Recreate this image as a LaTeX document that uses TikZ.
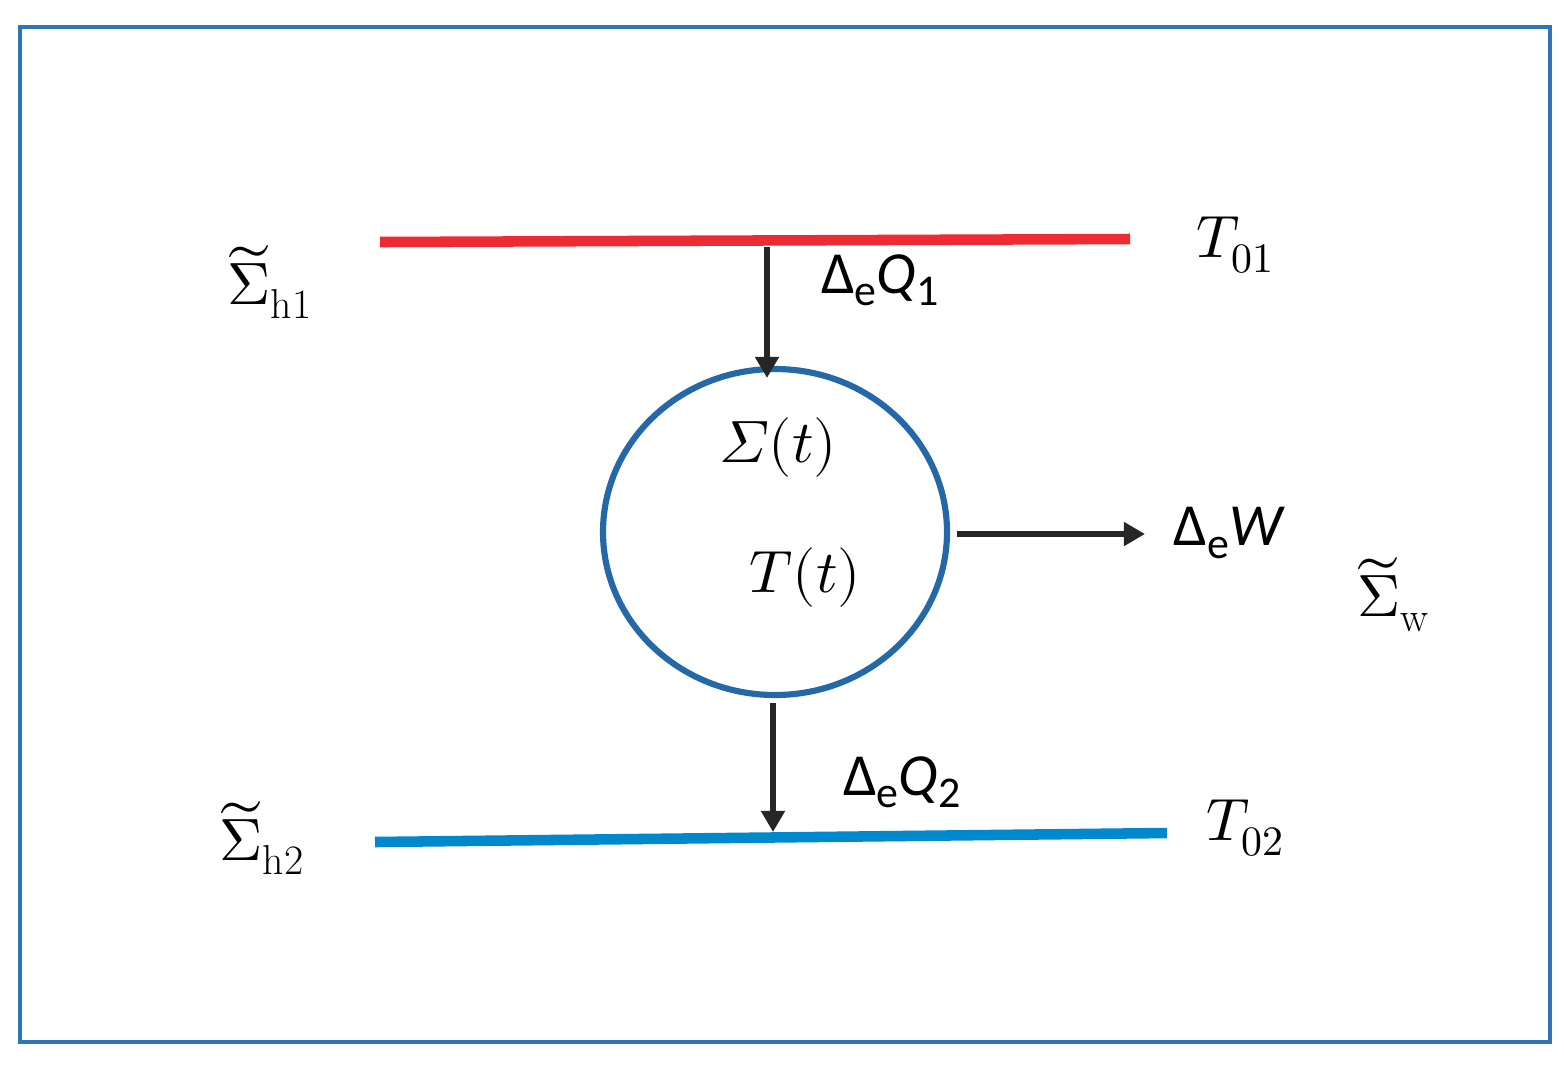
\documentclass[tikz,border=0pt]{standalone}
\usepackage[math-style=ISO]{unicode-math}
\setmathfont{Latin Modern Math}
\newfontfamily\calib{Carlito}
\usetikzlibrary{arrows.meta}
\definecolor{frame}{HTML}{2E75B6}
\definecolor{hot}{HTML}{EE2A33}
\definecolor{cold}{HTML}{0088CC}
\definecolor{circ}{HTML}{2468A8}
\newcommand{\lowsub}[1]{\lower7pt\hbox{\fontsize{25}{28}\selectfont #1}}
\begin{document}
\begin{tikzpicture}[x=0.02cm,y=-0.02cm,
  arr/.style={line width=3pt,draw=black!85,-{Triangle[length=12pt,width=13pt]}},
  lab/.style={font=\fontsize{34}{40}\selectfont},
  slab/.style={font=\fontsize{34}{40}\selectfont\calib}]
\useasboundingbox (0,0) rectangle (1564,1066);
\draw[frame,line width=2pt] (20,27) rectangle (1550,1042);
\coordinate (r1) at (380,242); \coordinate (r2) at (1130,239);
\coordinate (b1) at (375,842); \coordinate (b2) at (1167,833);
\draw[hot,line width=6pt] (r1) -- (r2);
\draw[cold,line width=6pt] (b1) -- (b2);
\draw[circ,line width=3.5pt] (775,532) ellipse [x radius=172, y radius=163];
\coordinate (a1s) at (767,247); \coordinate (a1e) at (767,378);
\coordinate (a2s) at (773,703); \coordinate (a2e) at (773,832);
\coordinate (a3s) at (957,534); \coordinate (a3e) at (1145,534);
\draw[arr] (a1s) -- (a1e);
\draw[arr] (a2s) -- (a2e);
\draw[arr] (a3s) -- (a3e);
\node[lab] (sh1) at (270,282) {$\widetilde{\upSigma}_{\mathrm{h1}}$};
\node[lab] (t01) at (1235,245) {$T_{01}$};
\node[slab] (q1) at (880,280) {Δ\lowsub{e}{\itshape Q}\lowsub{1}};
\node[lab] (st) at (778,448) {$\Sigma(t)$};
\node[lab] (tt) at (805,578) {$T(t)$};
\node[slab] (w) at (1228,533) {Δ\lowsub{e}{\itshape W}};
\node[lab] (sw) at (1393,595) {$\widetilde{\upSigma}_{\mathrm{w}}$};
\node[slab] (q2) at (902,782) {Δ\lowsub{e}{\itshape Q}\lowsub{2}};
\node[lab] (sh2) at (262,838) {$\widetilde{\upSigma}_{\mathrm{h2}}$};
\node[lab] (t02) at (1245,828) {$T_{02}$};
\end{tikzpicture}
\end{document}
